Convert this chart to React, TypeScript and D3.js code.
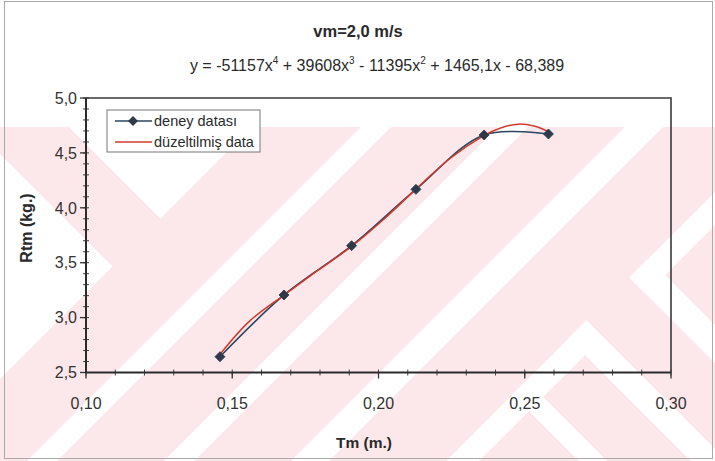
import React, { useEffect, useRef } from "react";
import * as d3 from "d3";

// experiment points (Tm in m., Rtm in kg.)
const tmValues = [0.1458, 0.1677, 0.1908, 0.2128, 0.2361, 0.2581];
const rtmValues = [2.644, 3.206, 3.655, 4.168, 4.663, 4.672];

// corrected (4th order fit) curve
const fitTm = [0.1458, 0.156, 0.1677, 0.179, 0.1908, 0.202, 0.2128, 0.224, 0.2361, 0.2415, 0.2478, 0.2535, 0.2581];
const fitRtm = [2.665, 2.97, 3.205, 3.425, 3.648, 3.9, 4.17, 4.44, 4.658, 4.725, 4.762, 4.742, 4.693];

const xTicks = [0.1, 0.15, 0.2, 0.25, 0.3];
const yTicks = [2.5, 3.0, 3.5, 4.0, 4.5, 5.0];
const seriesNames = ["deney datası", "düzeltilmiş data"];

const chartTitle = "vm=2,0 m/s";
const xLabel = "Tm (m.)";
const yLabel = "Rtm (kg.)";

const W = 715;
const H = 461;
const margin = { top: 98, right: 44, bottom: 88.5, left: 86 };
const font = "Arial, 'Liberation Sans', sans-serif";
const blue = "#2c4560";
const red = "#cf3a2c";
const pink = "#fce7ea";

export default function App() {
  const ref = useRef<SVGSVGElement>(null);

  useEffect(() => {
    const svg = d3.select(ref.current);
    svg.selectAll("*").remove();

    const x = d3.scaleLinear().domain([0.1, 0.3]).range([margin.left, W - margin.right]);
    const y = d3.scaleLinear().domain([2.5, 5.0]).range([H - margin.bottom, margin.top]);
    const comma = (f: string) => (d: number) => d3.format(f)(d).replace(".", ",");

    svg.append("rect").attr("width", W).attr("height", H).attr("fill", "#fff");

    // scanned page watermark: pink area with white diagonal stripes (u = x - y, v = x + y)
    svg.append("clipPath").attr("id", "wm").append("rect")
      .attr("x", 0).attr("y", 127).attr("width", W).attr("height", H - 127);
    const wm = svg.append("g").attr("clip-path", "url(#wm)");
    wm.append("rect").attr("x", 0).attr("y", 127).attr("width", W).attr("height", H - 127).attr("fill", pink);
    const whites = [
      [-2000, -154, -2000, 379],
      [-58, 2000, -2000, 379],
      [-2000, 2000, 488, 518],
      [-2000, 2000, 625, 655],
      [-2000, 2000, 752, 790],
      [-2000, 266, 907, 940],
      [352, 2000, 907, 940],
      [230, 266, 907, 2000],
      [352, 390, 907, 2000],
      [118, 146, 907, 2000]
    ];
    whites.forEach(([u1, u2, v1, v2]) => {
      const pts = [[u1, v1], [u2, v1], [u2, v2], [u1, v2]].map(([u, v]) => [(u + v) / 2, (v - u) / 2]);
      wm.append("path").attr("d", "M" + pts.join("L") + "Z").attr("fill", "#fff");
    });

    // outer frame of the scanned figure
    svg.append("rect").attr("x", 4.5).attr("y", 1.5).attr("width", 708).attr("height", 457)
      .attr("fill", "none").attr("stroke", "#aaa").attr("stroke-width", 1);

    // titles
    svg.append("text").attr("x", 358).attr("y", 37).attr("text-anchor", "middle")
      .attr("font-family", font).attr("font-size", 16.5).attr("font-weight", "bold").attr("fill", "#2a2a2a")
      .text(chartTitle);
    const eq = svg.append("text").attr("x", 377).attr("y", 71).attr("text-anchor", "middle")
      .attr("font-family", font).attr("font-size", 16).attr("fill", "#2a2a2a");
    const parts: [string, boolean][] = [
      ["y = -51157x", false], ["4", true], [" + 39608x", false], ["3", true],
      [" - 11395x", false], ["2", true], [" + 1465,1x - 68,389", false]
    ];
    parts.forEach(([t, sup]) => {
      eq.append("tspan").attr("font-size", sup ? 10 : 16).attr("dy", sup ? -7 : 7).text(t);
    });
    eq.select("tspan").attr("dy", 0);

    // y minor / major ticks
    const y0 = x(0.1);
    svg.append("g").selectAll("line").data(d3.range(25, 51).map(d => d / 10)).join("line")
      .attr("x1", y0 - 3).attr("x2", y0 + 3).attr("y1", d => y(d)).attr("y2", d => y(d))
      .attr("stroke", "#444").attr("stroke-width", 1);
    svg.append("g").selectAll("line").data(yTicks).join("line")
      .attr("x1", y0 - 6).attr("x2", y0).attr("y1", d => y(d)).attr("y2", d => y(d))
      .attr("stroke", "#333").attr("stroke-width", 1.3);
    svg.append("g").selectAll("text").data(yTicks).join("text")
      .attr("x", 77).attr("y", d => y(d)).attr("dy", "0.36em").attr("text-anchor", "end")
      .attr("font-family", font).attr("font-size", 16).attr("fill", "#333")
      .text(comma(".1f"));

    // x minor / major ticks
    const x0 = y(2.5);
    svg.append("g").selectAll("line").data(d3.range(10, 31).map(d => d / 100)).join("line")
      .attr("y1", x0 - 3).attr("y2", x0 + 3).attr("x1", d => x(d)).attr("x2", d => x(d))
      .attr("stroke", "#444").attr("stroke-width", 1);
    svg.append("g").selectAll("line").data(xTicks).join("line")
      .attr("y1", x0).attr("y2", x0 + 6).attr("x1", d => x(d)).attr("x2", d => x(d))
      .attr("stroke", "#333").attr("stroke-width", 1.3);
    svg.append("g").selectAll("text").data(xTicks).join("text")
      .attr("x", d => x(d)).attr("y", 409).attr("text-anchor", "middle")
      .attr("font-family", font).attr("font-size", 16).attr("fill", "#333")
      .text(comma(".2f"));

    // plot frame
    svg.append("path")
      .attr("d", `M${x(0.1)},${y(5)}H${x(0.3)}V${y(2.5)}`)
      .attr("fill", "none").attr("stroke", "#3a3a3a").attr("stroke-width", 1.6);
    svg.append("path")
      .attr("d", `M${x(0.1)},${y(5)}V${y(2.5)}H${x(0.3)}`)
      .attr("fill", "none").attr("stroke", "#2b2b2b").attr("stroke-width", 2);

    // axis titles
    svg.append("text").attr("x", 364).attr("y", 448).attr("text-anchor", "middle")
      .attr("font-family", font).attr("font-size", 15.5).attr("font-weight", "bold").attr("fill", "#2a2a2a")
      .text(xLabel);
    svg.append("text").attr("transform", "translate(32,228) rotate(-90)").attr("text-anchor", "middle")
      .attr("font-family", font).attr("font-size", 16).attr("font-weight", "bold").attr("fill", "#2a2a2a")
      .text(yLabel);

    // series
    const dataPts = tmValues.map((t, i) => [t, rtmValues[i]] as [number, number]);
    const fitPts = fitTm.map((t, i) => [t, fitRtm[i]] as [number, number]);
    const line = d3.line<[number, number]>().x(d => x(d[0])).y(d => y(d[1])).curve(d3.curveCatmullRom.alpha(0.5));

    svg.append("path").attr("d", line(dataPts)).attr("fill", "none")
      .attr("stroke", blue).attr("stroke-width", 1.6);
    svg.append("path").attr("d", line(fitPts)).attr("fill", "none")
      .attr("stroke", red).attr("stroke-width", 1.5);
    const marker = d3.symbol().type(d3.symbolSquare).size(50);
    svg.append("g").selectAll("path").data(dataPts).join("path")
      .attr("transform", d => `translate(${x(d[0])},${y(d[1])}) rotate(45)`)
      .attr("d", marker()).attr("fill", "#2e3a4a").attr("stroke", "#2e3a4a").attr("stroke-width", 0.8);

    // legend
    const lg = svg.append("g");
    lg.append("rect").attr("x", 107).attr("y", 110).attr("width", 153).attr("height", 42)
      .attr("fill", "#fff").attr("stroke", "#777").attr("stroke-width", 1);
    const rows = [
      { name: seriesNames[0], color: blue, y: 121, marker: true },
      { name: seriesNames[1], color: red, y: 142, marker: false }
    ];
    rows.forEach(r => {
      lg.append("line").attr("x1", 115).attr("x2", 152).attr("y1", r.y).attr("y2", r.y)
        .attr("stroke", r.color).attr("stroke-width", 1.6);
      if (r.marker) {
        lg.append("path").attr("transform", `translate(133,${r.y}) rotate(45)`).attr("d", marker())
          .attr("fill", "#2e3a4a");
      }
      lg.append("text").attr("x", 154).attr("y", r.y).attr("dy", "0.36em")
        .attr("font-family", font).attr("font-size", 14.5).attr("fill", "#2a2a2a").text(r.name);
    });
  }, []);

  return (
    <svg ref={ref} width={W} height={H} style={{ position: "absolute", left: 0, top: 0, display: "block" }} />
  );
}
